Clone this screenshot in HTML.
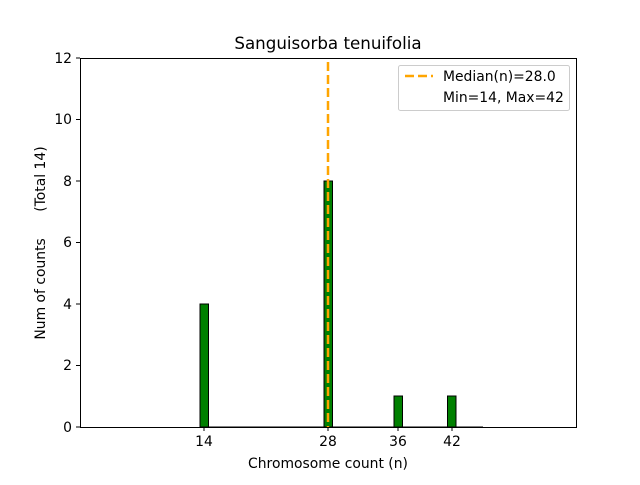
<!DOCTYPE html>
<html><head><style>body{margin:0;background:#fff}</style></head><body>
<svg width="640" height="480" xmlns="http://www.w3.org/2000/svg" font-family="'DejaVu Sans', sans-serif">
<rect width="640" height="480" fill="#fff"/>
<g fill="green" stroke="#000" stroke-width="1">
<rect x="200" y="304" width="8.5" height="123"/>
<rect x="324" y="181" width="8.5" height="246"/>
<rect x="394" y="396" width="8.5" height="31"/>
<rect x="447.5" y="396" width="8.5" height="31"/>
</g>
<line x1="200" y1="427" x2="483" y2="427" stroke="#000" stroke-width="1"/>
<line x1="328" y1="62" x2="328" y2="427" stroke="orange" stroke-width="2.5" stroke-dasharray="9,4"/>
<rect x="80.5" y="58.5" width="496" height="369" fill="none" stroke="#000" stroke-width="1"/>
<g stroke="#000">
<line x1="204" y1="427" x2="204" y2="431"/><line x1="328" y1="427" x2="328" y2="431"/>
<line x1="398" y1="427" x2="398" y2="431"/><line x1="452" y1="427" x2="452" y2="431"/>
<line x1="76" y1="427" x2="80" y2="427"/><line x1="76" y1="365.5" x2="80" y2="365.5"/>
<line x1="76" y1="304" x2="80" y2="304"/><line x1="76" y1="242.5" x2="80" y2="242.5"/>
<line x1="76" y1="181" x2="80" y2="181"/><line x1="76" y1="119.5" x2="80" y2="119.5"/>
<line x1="76" y1="58" x2="80" y2="58"/>
</g>
<g font-size="13.9" text-anchor="middle" fill="#000">
<text x="204" y="446">14</text><text x="328" y="446">28</text><text x="398" y="446">36</text><text x="452" y="446">42</text>
</g>
<g font-size="13.9" text-anchor="end" fill="#000">
<text x="72" y="432">0</text><text x="72" y="370">2</text><text x="72" y="309">4</text><text x="72" y="247">6</text>
<text x="72" y="186">8</text><text x="72" y="124">10</text><text x="72" y="63">12</text>
</g>
<text x="328" y="468" font-size="13.9" text-anchor="middle">Chromosome count (n)</text>
<text transform="translate(45,243) rotate(-90)" font-size="13.9" text-anchor="middle" xml:space="preserve" style="white-space:pre">Num of counts      (Total 14)</text>
<text x="328" y="49" font-size="16.7" text-anchor="middle">Sanguisorba tenuifolia</text>
<rect x="398.5" y="65.5" width="171" height="45" rx="2" fill="#fff" stroke="#ccc"/>
<line x1="405" y1="76" x2="433" y2="76" stroke="orange" stroke-width="2.5" stroke-dasharray="9,4"/>
<text x="443" y="81" font-size="13.9">Median(n)=28.0</text>
<text x="443" y="102" font-size="13.9">Min=14, Max=42</text>
</svg>
</body></html>
